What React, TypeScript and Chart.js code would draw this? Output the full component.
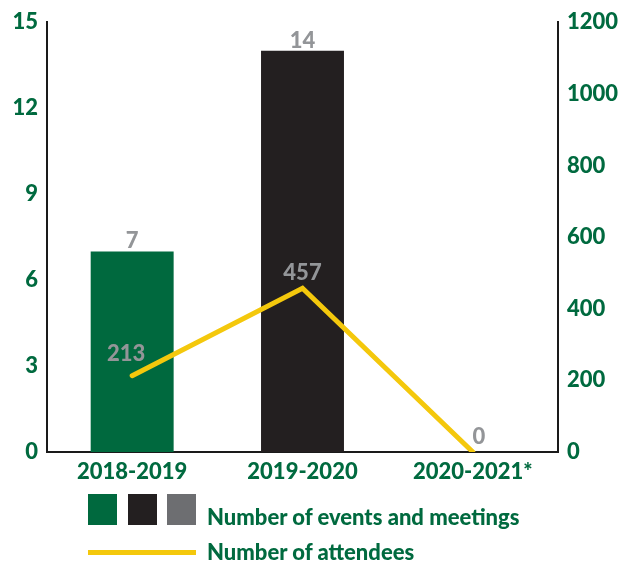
import React, { useEffect, useRef } from "react";
import { Chart, registerables } from "chart.js";

Chart.register(...registerables);

const categories = ["2018-2019", "2019-2020", "2020-2021*"];
const eventsValues = [7, 14, 0];
const attendeeValues = [213, 457, 0];
const leftTicks = [0, 3, 6, 9, 12, 15];
const rightTicks = [0, 200, 400, 600, 800, 1000, 1200];

const GREEN_TEXT = "#006a3f";
const BAR_COLORS = ["#00693e", "#231f20", "#6d6e71"];
const YELLOW = "#f4c80c";
const LABEL_GRAY = "#939598";
const FONT = "Lato, sans-serif";
const WEIGHT = "900";
const FSIZE = 22;
const LINE_LABEL_DX = [-6, 0, 6];
const LINE_LABEL_DY = [-15, -8, -8];

const labelsPlugin = {
  id: "valueLabels",
  afterDatasetsDraw(chart: any) {
    const ctx = chart.ctx;
    ctx.save();
    ctx.font = `${WEIGHT} ${FSIZE}px ${FONT}`;
    ctx.fillStyle = LABEL_GRAY;
    ctx.textAlign = "center";
    ctx.textBaseline = "alphabetic";
    const barMeta = chart.getDatasetMeta(0);
    barMeta.data.forEach((el: any, i: number) => {
      const v = eventsValues[i];
      if (v > 0) ctx.fillText(String(v), el.x, el.y - 3);
    });
    const lineMeta = chart.getDatasetMeta(1);
    lineMeta.data.forEach((el: any, i: number) => {
      ctx.fillText(String(attendeeValues[i]), el.x + LINE_LABEL_DX[i], el.y + LINE_LABEL_DY[i]);
    });
    ctx.restore();
  },
};

export default function App() {
  const ref = useRef<HTMLCanvasElement>(null);
  useEffect(() => {
    document.body.style.margin = "0";
    const tickFont = { family: FONT, weight: WEIGHT, size: FSIZE };
    const chart = new Chart(ref.current!, {
      type: "bar",
      data: {
        labels: categories,
        datasets: [
          {
            type: "bar",
            label: "Number of events and meetings",
            data: eventsValues,
            backgroundColor: BAR_COLORS,
            yAxisID: "y",
            barPercentage: 0.487,
            categoryPercentage: 1,
            order: 2,
          },
          {
            type: "line",
            label: "Number of attendees",
            data: attendeeValues,
            borderColor: YELLOW,
            borderWidth: 5,
            borderCapStyle: "round",
            borderJoinStyle: "miter",
            pointRadius: 0,
            tension: 0,
            yAxisID: "y1",
            order: 1,
          } as any,
        ],
      },
      options: {
        animation: false,
        responsive: false,
        maintainAspectRatio: false,
        layout: { padding: { top: 20, left: 0, right: 0, bottom: 0 } },
        plugins: { legend: { display: false }, tooltip: { enabled: false } },
        scales: {
          x: {
            grid: { display: false, drawTicks: false },
            border: { display: true, color: "#1a1a1a", width: 2 },
            ticks: {
              color: GREEN_TEXT,
              font: tickFont,
              padding: 7,
              maxRotation: 0,
            },
            afterFit(scale: any) {
              scale.height = 111;
            },
          },
          y: {
            position: "left",
            min: 0,
            max: 15,
            afterBuildTicks(scale: any) {
              scale.ticks = leftTicks.map((v) => ({ value: v }));
            },
            grid: { display: false, drawTicks: false },
            border: { display: true, color: "#1a1a1a", width: 2 },
            ticks: {
              color: GREEN_TEXT,
              font: tickFont,
              padding: 9,
              callback: (v: any) => String(v),
            },
            afterFit(scale: any) {
              scale.width = 47;
            },
          },
          y1: {
            position: "right",
            min: 0,
            max: 1200,
            afterBuildTicks(scale: any) {
              scale.ticks = rightTicks.map((v) => ({ value: v }));
            },
            grid: { display: false, drawTicks: false },
            border: { display: true, color: "#1a1a1a", width: 2 },
            ticks: {
              color: GREEN_TEXT,
              font: tickFont,
              padding: 9,
              callback: (v: any) => String(v),
            },
            afterFit(scale: any) {
              scale.width = 77;
            },
          },
        },
      } as any,
      plugins: [labelsPlugin],
    });
    return () => chart.destroy();
  }, []);

  const textStyle: React.CSSProperties = {
    position: "absolute",
    left: 207,
    color: GREEN_TEXT,
    fontFamily: FONT,
    fontWeight: 900,
    fontSize: FSIZE,
    lineHeight: "24px",
    whiteSpace: "nowrap",
  };

  return (
    <div style={{ position: "relative", width: 635, height: 563, background: "#fff" }}>
      <canvas ref={ref} width={635} height={563} style={{ position: "absolute", left: 0, top: 0 }} />
      {BAR_COLORS.map((c, i) => (
        <div
          key={i}
          style={{ position: "absolute", left: 88 + i * 39.5, top: 494, width: 29, height: 31, background: c }}
        />
      ))}
      <div style={{ ...textStyle, top: 505 }}>Number of events and meetings</div>
      <div style={{ position: "absolute", left: 88, top: 550, width: 108, height: 5, background: YELLOW }} />
      <div style={{ ...textStyle, top: 540 }}>Number of attendees</div>
    </div>
  );
}
